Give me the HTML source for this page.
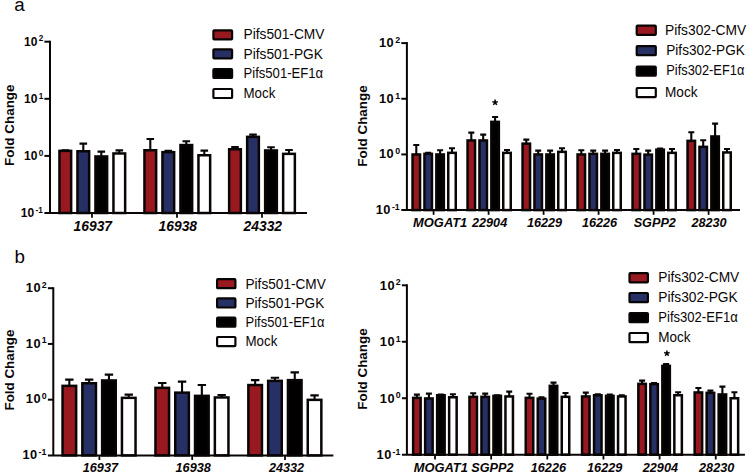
<!DOCTYPE html>
<html><head><meta charset="utf-8"><title>Fold change charts</title>
<style>html,body{margin:0;padding:0;background:#fff;}svg{display:block;}svg text{font-family:"Liberation Sans",sans-serif;}</style></head><body>
<svg width="750" height="476" viewBox="0 0 750 476">
<rect width="750" height="476" fill="#ffffff"/>
<text x="14.2" y="11.2" font-size="18.8" fill="#0a0505">a</text>
<text x="14.4" y="262.8" font-size="18.8" fill="#0a0505">b</text>
<path d="M65.30 150.60V150.20M61.50 150.20H69.10" stroke="#0a0505" stroke-width="2.1" fill="none"/>
<rect x="59.45" y="150.85" width="11.70" height="62.15" fill="#98191f" stroke="#0a0505" stroke-width="2.5"/>
<path d="M83.30 151.00V143.60M79.50 143.60H87.10" stroke="#0a0505" stroke-width="2.1" fill="none"/>
<rect x="77.45" y="151.25" width="11.70" height="61.75" fill="#273064" stroke="#0a0505" stroke-width="2.5"/>
<path d="M101.30 156.20V151.60M97.50 151.60H105.10" stroke="#0a0505" stroke-width="2.1" fill="none"/>
<rect x="95.45" y="156.45" width="11.70" height="56.55" fill="#000000" stroke="#0a0505" stroke-width="2.5"/>
<path d="M119.30 153.20V150.40M115.50 150.40H123.10" stroke="#0a0505" stroke-width="2.1" fill="none"/>
<rect x="113.45" y="153.45" width="11.70" height="59.55" fill="#ffffff" stroke="#0a0505" stroke-width="2.5"/>
<path d="M150.30 150.00V139.00M146.50 139.00H154.10" stroke="#0a0505" stroke-width="2.1" fill="none"/>
<rect x="144.45" y="150.25" width="11.70" height="62.75" fill="#98191f" stroke="#0a0505" stroke-width="2.5"/>
<path d="M168.30 151.90V150.90M164.50 150.90H172.10" stroke="#0a0505" stroke-width="2.1" fill="none"/>
<rect x="162.45" y="152.15" width="11.70" height="60.85" fill="#273064" stroke="#0a0505" stroke-width="2.5"/>
<path d="M186.30 144.80V141.30M182.50 141.30H190.10" stroke="#0a0505" stroke-width="2.1" fill="none"/>
<rect x="180.45" y="145.05" width="11.70" height="67.95" fill="#000000" stroke="#0a0505" stroke-width="2.5"/>
<path d="M204.30 155.00V150.60M200.50 150.60H208.10" stroke="#0a0505" stroke-width="2.1" fill="none"/>
<rect x="198.45" y="155.25" width="11.70" height="57.75" fill="#ffffff" stroke="#0a0505" stroke-width="2.5"/>
<path d="M235.00 149.00V147.00M231.20 147.00H238.80" stroke="#0a0505" stroke-width="2.1" fill="none"/>
<rect x="229.15" y="149.25" width="11.70" height="63.75" fill="#98191f" stroke="#0a0505" stroke-width="2.5"/>
<path d="M253.00 136.60V134.60M249.20 134.60H256.80" stroke="#0a0505" stroke-width="2.1" fill="none"/>
<rect x="247.15" y="136.85" width="11.70" height="76.15" fill="#273064" stroke="#0a0505" stroke-width="2.5"/>
<path d="M271.00 150.20V147.20M267.20 147.20H274.80" stroke="#0a0505" stroke-width="2.1" fill="none"/>
<rect x="265.15" y="150.45" width="11.70" height="62.55" fill="#000000" stroke="#0a0505" stroke-width="2.5"/>
<path d="M289.00 153.60V150.00M285.20 150.00H292.80" stroke="#0a0505" stroke-width="2.1" fill="none"/>
<rect x="283.15" y="153.85" width="11.70" height="59.15" fill="#ffffff" stroke="#0a0505" stroke-width="2.5"/>
<path d="M50.00 40.70V214.00M44.40 213.00H307.00" stroke="#0a0505" stroke-width="2" fill="none"/>
<path d="M44.40 41.70H50.00" stroke="#0a0505" stroke-width="2"/>
<text x="38.80" y="41.40" font-size="8.2" font-weight="bold" fill="#0a0505">2</text>
<text x="24.10" y="45.60" font-size="12.0" font-weight="bold" letter-spacing="0" fill="#0a0505">10</text>
<path d="M44.40 98.80H50.00" stroke="#0a0505" stroke-width="2"/>
<text x="38.80" y="98.50" font-size="8.2" font-weight="bold" fill="#0a0505">1</text>
<text x="24.10" y="102.70" font-size="12.0" font-weight="bold" letter-spacing="0" fill="#0a0505">10</text>
<path d="M44.40 155.90H50.00" stroke="#0a0505" stroke-width="2"/>
<text x="38.80" y="155.60" font-size="8.2" font-weight="bold" fill="#0a0505">0</text>
<text x="24.10" y="159.80" font-size="12.0" font-weight="bold" letter-spacing="0" fill="#0a0505">10</text>
<text x="35.50" y="212.70" font-size="8.2" font-weight="bold" fill="#0a0505">-1</text>
<text x="20.80" y="216.90" font-size="12.0" font-weight="bold" letter-spacing="0" fill="#0a0505">10</text>
<path d="M92.00 213.00V217.80" stroke="#0a0505" stroke-width="1.8"/>
<text x="92.80" y="230.60" text-anchor="middle" font-size="14.2" font-weight="bold" font-style="italic" fill="#0a0505" textLength="38.49" lengthAdjust="spacingAndGlyphs">16937</text>
<path d="M177.00 213.00V217.80" stroke="#0a0505" stroke-width="1.8"/>
<text x="177.80" y="230.60" text-anchor="middle" font-size="14.2" font-weight="bold" font-style="italic" fill="#0a0505" textLength="38.49" lengthAdjust="spacingAndGlyphs">16938</text>
<path d="M262.00 213.00V217.80" stroke="#0a0505" stroke-width="1.8"/>
<text x="262.80" y="230.60" text-anchor="middle" font-size="14.2" font-weight="bold" font-style="italic" fill="#0a0505" textLength="38.49" lengthAdjust="spacingAndGlyphs">24332</text>
<text transform="translate(14.40 125.20) rotate(-90)" text-anchor="middle" font-size="13.4" font-weight="bold" fill="#0a0505" textLength="81.5" lengthAdjust="spacing">Fold Change</text>
<rect x="213.40" y="30.30" width="18.70" height="9.00" rx="0.8" fill="#98191f" stroke="#0a0505" stroke-width="2.2"/>
<text x="243.50" y="39.30" font-size="13.9" fill="#0a0505" textLength="81" lengthAdjust="spacingAndGlyphs">Pifs501-CMV</text>
<rect x="213.40" y="49.30" width="18.70" height="9.00" rx="0.8" fill="#273064" stroke="#0a0505" stroke-width="2.2"/>
<text x="243.50" y="58.60" font-size="13.9" fill="#0a0505" textLength="79.4" lengthAdjust="spacingAndGlyphs">Pifs501-PGK</text>
<rect x="213.40" y="69.00" width="18.70" height="9.00" rx="0.8" fill="#000000" stroke="#0a0505" stroke-width="2.2"/>
<text x="243.50" y="78.30" font-size="13.9" fill="#0a0505" textLength="79.6" lengthAdjust="spacingAndGlyphs">Pifs501-EF1α</text>
<rect x="213.40" y="89.00" width="18.70" height="9.00" rx="0.8" fill="#ffffff" stroke="#0a0505" stroke-width="2.2"/>
<text x="243.50" y="98.30" font-size="13.9" fill="#0a0505" textLength="31.8" lengthAdjust="spacingAndGlyphs">Mock</text>
<path d="M416.30 154.20V145.00M413.30 145.00H419.30" stroke="#0a0505" stroke-width="2.1" fill="none"/>
<rect x="412.55" y="154.45" width="7.50" height="55.65" fill="#98191f" stroke="#0a0505" stroke-width="2.5"/>
<path d="M428.20 153.60V152.80M425.20 152.80H431.20" stroke="#0a0505" stroke-width="2.1" fill="none"/>
<rect x="424.45" y="153.85" width="7.50" height="56.25" fill="#273064" stroke="#0a0505" stroke-width="2.5"/>
<path d="M440.10 154.20V150.20M437.10 150.20H443.10" stroke="#0a0505" stroke-width="2.1" fill="none"/>
<rect x="436.35" y="154.45" width="7.50" height="55.65" fill="#000000" stroke="#0a0505" stroke-width="2.5"/>
<path d="M452.00 152.60V148.20M449.00 148.20H455.00" stroke="#0a0505" stroke-width="2.1" fill="none"/>
<rect x="448.25" y="152.85" width="7.50" height="57.25" fill="#ffffff" stroke="#0a0505" stroke-width="2.5"/>
<path d="M471.30 140.20V132.60M468.30 132.60H474.30" stroke="#0a0505" stroke-width="2.1" fill="none"/>
<rect x="467.55" y="140.45" width="7.50" height="69.65" fill="#98191f" stroke="#0a0505" stroke-width="2.5"/>
<path d="M483.20 140.20V134.60M480.20 134.60H486.20" stroke="#0a0505" stroke-width="2.1" fill="none"/>
<rect x="479.45" y="140.45" width="7.50" height="69.65" fill="#273064" stroke="#0a0505" stroke-width="2.5"/>
<path d="M495.10 121.60V117.00M492.10 117.00H498.10" stroke="#0a0505" stroke-width="2.1" fill="none"/>
<rect x="491.35" y="121.85" width="7.50" height="88.25" fill="#000000" stroke="#0a0505" stroke-width="2.5"/>
<path d="M507.00 152.60V150.00M504.00 150.00H510.00" stroke="#0a0505" stroke-width="2.1" fill="none"/>
<rect x="503.25" y="152.85" width="7.50" height="57.25" fill="#ffffff" stroke="#0a0505" stroke-width="2.5"/>
<path d="M526.30 143.40V139.60M523.30 139.60H529.30" stroke="#0a0505" stroke-width="2.1" fill="none"/>
<rect x="522.55" y="143.65" width="7.50" height="66.45" fill="#98191f" stroke="#0a0505" stroke-width="2.5"/>
<path d="M538.20 154.20V150.60M535.20 150.60H541.20" stroke="#0a0505" stroke-width="2.1" fill="none"/>
<rect x="534.45" y="154.45" width="7.50" height="55.65" fill="#273064" stroke="#0a0505" stroke-width="2.5"/>
<path d="M550.10 154.20V150.60M547.10 150.60H553.10" stroke="#0a0505" stroke-width="2.1" fill="none"/>
<rect x="546.35" y="154.45" width="7.50" height="55.65" fill="#000000" stroke="#0a0505" stroke-width="2.5"/>
<path d="M562.00 151.60V148.20M559.00 148.20H565.00" stroke="#0a0505" stroke-width="2.1" fill="none"/>
<rect x="558.25" y="151.85" width="7.50" height="58.25" fill="#ffffff" stroke="#0a0505" stroke-width="2.5"/>
<path d="M581.30 154.20V150.20M578.30 150.20H584.30" stroke="#0a0505" stroke-width="2.1" fill="none"/>
<rect x="577.55" y="154.45" width="7.50" height="55.65" fill="#98191f" stroke="#0a0505" stroke-width="2.5"/>
<path d="M593.20 153.60V150.60M590.20 150.60H596.20" stroke="#0a0505" stroke-width="2.1" fill="none"/>
<rect x="589.45" y="153.85" width="7.50" height="56.25" fill="#273064" stroke="#0a0505" stroke-width="2.5"/>
<path d="M605.10 153.60V150.60M602.10 150.60H608.10" stroke="#0a0505" stroke-width="2.1" fill="none"/>
<rect x="601.35" y="153.85" width="7.50" height="56.25" fill="#000000" stroke="#0a0505" stroke-width="2.5"/>
<path d="M617.00 152.60V150.00M614.00 150.00H620.00" stroke="#0a0505" stroke-width="2.1" fill="none"/>
<rect x="613.25" y="152.85" width="7.50" height="57.25" fill="#ffffff" stroke="#0a0505" stroke-width="2.5"/>
<path d="M636.30 153.60V149.00M633.30 149.00H639.30" stroke="#0a0505" stroke-width="2.1" fill="none"/>
<rect x="632.55" y="153.85" width="7.50" height="56.25" fill="#98191f" stroke="#0a0505" stroke-width="2.5"/>
<path d="M648.20 154.40V150.60M645.20 150.60H651.20" stroke="#0a0505" stroke-width="2.1" fill="none"/>
<rect x="644.45" y="154.65" width="7.50" height="55.45" fill="#273064" stroke="#0a0505" stroke-width="2.5"/>
<path d="M660.10 149.40V148.60M657.10 148.60H663.10" stroke="#0a0505" stroke-width="2.1" fill="none"/>
<rect x="656.35" y="149.65" width="7.50" height="60.45" fill="#000000" stroke="#0a0505" stroke-width="2.5"/>
<path d="M672.00 152.60V149.00M669.00 149.00H675.00" stroke="#0a0505" stroke-width="2.1" fill="none"/>
<rect x="668.25" y="152.85" width="7.50" height="57.25" fill="#ffffff" stroke="#0a0505" stroke-width="2.5"/>
<path d="M691.30 140.60V132.20M688.30 132.20H694.30" stroke="#0a0505" stroke-width="2.1" fill="none"/>
<rect x="687.55" y="140.85" width="7.50" height="69.25" fill="#98191f" stroke="#0a0505" stroke-width="2.5"/>
<path d="M703.20 146.60V140.20M700.20 140.20H706.20" stroke="#0a0505" stroke-width="2.1" fill="none"/>
<rect x="699.45" y="146.85" width="7.50" height="63.25" fill="#273064" stroke="#0a0505" stroke-width="2.5"/>
<path d="M715.10 136.20V123.60M712.10 123.60H718.10" stroke="#0a0505" stroke-width="2.1" fill="none"/>
<rect x="711.35" y="136.45" width="7.50" height="73.65" fill="#000000" stroke="#0a0505" stroke-width="2.5"/>
<path d="M727.00 152.20V149.00M724.00 149.00H730.00" stroke="#0a0505" stroke-width="2.1" fill="none"/>
<rect x="723.25" y="152.45" width="7.50" height="57.65" fill="#ffffff" stroke="#0a0505" stroke-width="2.5"/>
<path d="M406.90 42.10V211.10M401.30 210.10H740.00" stroke="#0a0505" stroke-width="2" fill="none"/>
<path d="M401.30 43.10H406.90" stroke="#0a0505" stroke-width="2"/>
<text x="395.20" y="42.90" font-size="8.8" font-weight="bold" fill="#0a0505">2</text>
<text x="379.10" y="47.00" font-size="12.8" font-weight="bold" letter-spacing="0.4" fill="#0a0505">10</text>
<path d="M401.30 98.77H406.90" stroke="#0a0505" stroke-width="2"/>
<text x="395.20" y="98.57" font-size="8.8" font-weight="bold" fill="#0a0505">1</text>
<text x="379.10" y="102.67" font-size="12.8" font-weight="bold" letter-spacing="0.4" fill="#0a0505">10</text>
<path d="M401.30 154.43H406.90" stroke="#0a0505" stroke-width="2"/>
<text x="395.20" y="154.23" font-size="8.8" font-weight="bold" fill="#0a0505">0</text>
<text x="379.10" y="158.33" font-size="12.8" font-weight="bold" letter-spacing="0.4" fill="#0a0505">10</text>
<text x="391.90" y="209.90" font-size="8.8" font-weight="bold" fill="#0a0505">-1</text>
<text x="375.80" y="214.00" font-size="12.8" font-weight="bold" letter-spacing="0.4" fill="#0a0505">10</text>
<path d="M433.60 210.10V214.80" stroke="#0a0505" stroke-width="1.8"/>
<text x="440.20" y="226.60" text-anchor="middle" font-size="13.0" font-weight="bold" font-style="italic" fill="#0a0505" textLength="54.22" lengthAdjust="spacingAndGlyphs">MOGAT1</text>
<path d="M488.60 210.10V214.80" stroke="#0a0505" stroke-width="1.8"/>
<text x="489.60" y="226.60" text-anchor="middle" font-size="13.0" font-weight="bold" font-style="italic" fill="#0a0505" textLength="35.24" lengthAdjust="spacingAndGlyphs">22904</text>
<path d="M543.60 210.10V214.80" stroke="#0a0505" stroke-width="1.8"/>
<text x="544.50" y="226.60" text-anchor="middle" font-size="13.0" font-weight="bold" font-style="italic" fill="#0a0505" textLength="35.24" lengthAdjust="spacingAndGlyphs">16229</text>
<path d="M598.60 210.10V214.80" stroke="#0a0505" stroke-width="1.8"/>
<text x="599.50" y="226.60" text-anchor="middle" font-size="13.0" font-weight="bold" font-style="italic" fill="#0a0505" textLength="35.24" lengthAdjust="spacingAndGlyphs">16226</text>
<path d="M653.60 210.10V214.80" stroke="#0a0505" stroke-width="1.8"/>
<text x="654.80" y="226.60" text-anchor="middle" font-size="13.0" font-weight="bold" font-style="italic" fill="#0a0505" textLength="42.27" lengthAdjust="spacingAndGlyphs">SGPP2</text>
<path d="M708.60 210.10V214.80" stroke="#0a0505" stroke-width="1.8"/>
<text x="709.00" y="226.60" text-anchor="middle" font-size="13.0" font-weight="bold" font-style="italic" fill="#0a0505" textLength="35.24" lengthAdjust="spacingAndGlyphs">28230</text>
<text transform="translate(366.50 126.00) rotate(-90)" text-anchor="middle" font-size="13.4" font-weight="bold" fill="#0a0505" textLength="81.5" lengthAdjust="spacing">Fold Change</text>
<rect x="636.70" y="25.70" width="19.10" height="9.10" rx="0.8" fill="#98191f" stroke="#0a0505" stroke-width="2.2"/>
<text x="665.00" y="34.60" font-size="13.9" fill="#0a0505" textLength="81.2" lengthAdjust="spacingAndGlyphs">Pifs302-CMV</text>
<rect x="636.70" y="46.10" width="19.10" height="9.10" rx="0.8" fill="#273064" stroke="#0a0505" stroke-width="2.2"/>
<text x="666.30" y="55.00" font-size="13.9" fill="#0a0505" textLength="78.5" lengthAdjust="spacingAndGlyphs">Pifs302-PGK</text>
<rect x="636.70" y="66.60" width="19.10" height="9.10" rx="0.8" fill="#000000" stroke="#0a0505" stroke-width="2.2"/>
<text x="666.30" y="75.30" font-size="13.9" fill="#0a0505" textLength="78.0" lengthAdjust="spacingAndGlyphs">Pifs302-EF1α</text>
<rect x="636.70" y="88.00" width="19.10" height="9.10" rx="0.8" fill="#ffffff" stroke="#0a0505" stroke-width="2.2"/>
<text x="665.00" y="96.90" font-size="13.9" fill="#0a0505" textLength="32.5" lengthAdjust="spacingAndGlyphs">Mock</text>
<path d="M495.10 102.50L495.10 99.60M495.10 102.50L497.86 101.60M495.10 102.50L496.80 104.85M495.10 102.50L493.40 104.85M495.10 102.50L492.34 101.60" stroke="#0a0505" stroke-width="1.5" fill="none"/>
<path d="M69.35 385.60V379.60M65.15 379.60H73.55" stroke="#0a0505" stroke-width="2.1" fill="none"/>
<rect x="62.55" y="385.85" width="13.60" height="69.55" fill="#98191f" stroke="#0a0505" stroke-width="2.5"/>
<path d="M89.15 383.00V379.60M84.95 379.60H93.35" stroke="#0a0505" stroke-width="2.1" fill="none"/>
<rect x="82.35" y="383.25" width="13.60" height="72.15" fill="#273064" stroke="#0a0505" stroke-width="2.5"/>
<path d="M108.95 380.20V374.60M104.75 374.60H113.15" stroke="#0a0505" stroke-width="2.1" fill="none"/>
<rect x="102.15" y="380.45" width="13.60" height="74.95" fill="#000000" stroke="#0a0505" stroke-width="2.5"/>
<path d="M128.75 397.60V394.60M124.55 394.60H132.95" stroke="#0a0505" stroke-width="2.1" fill="none"/>
<rect x="121.95" y="397.85" width="13.60" height="57.55" fill="#ffffff" stroke="#0a0505" stroke-width="2.5"/>
<path d="M162.25 387.60V383.00M158.05 383.00H166.45" stroke="#0a0505" stroke-width="2.1" fill="none"/>
<rect x="155.45" y="387.85" width="13.60" height="67.55" fill="#98191f" stroke="#0a0505" stroke-width="2.5"/>
<path d="M182.05 392.40V381.60M177.85 381.60H186.25" stroke="#0a0505" stroke-width="2.1" fill="none"/>
<rect x="175.25" y="392.65" width="13.60" height="62.75" fill="#273064" stroke="#0a0505" stroke-width="2.5"/>
<path d="M201.85 395.60V385.00M197.65 385.00H206.05" stroke="#0a0505" stroke-width="2.1" fill="none"/>
<rect x="195.05" y="395.85" width="13.60" height="59.55" fill="#000000" stroke="#0a0505" stroke-width="2.5"/>
<path d="M221.65 397.20V395.00M217.45 395.00H225.85" stroke="#0a0505" stroke-width="2.1" fill="none"/>
<rect x="214.85" y="397.45" width="13.60" height="57.95" fill="#ffffff" stroke="#0a0505" stroke-width="2.5"/>
<path d="M255.15 384.80V380.10M250.95 380.10H259.35" stroke="#0a0505" stroke-width="2.1" fill="none"/>
<rect x="248.35" y="385.05" width="13.60" height="70.35" fill="#98191f" stroke="#0a0505" stroke-width="2.5"/>
<path d="M274.95 380.60V377.80M270.75 377.80H279.15" stroke="#0a0505" stroke-width="2.1" fill="none"/>
<rect x="268.15" y="380.85" width="13.60" height="74.55" fill="#273064" stroke="#0a0505" stroke-width="2.5"/>
<path d="M294.75 379.90V372.40M290.55 372.40H298.95" stroke="#0a0505" stroke-width="2.1" fill="none"/>
<rect x="287.95" y="380.15" width="13.60" height="75.25" fill="#000000" stroke="#0a0505" stroke-width="2.5"/>
<path d="M314.55 399.60V395.40M310.35 395.40H318.75" stroke="#0a0505" stroke-width="2.1" fill="none"/>
<rect x="307.75" y="399.85" width="13.60" height="55.55" fill="#ffffff" stroke="#0a0505" stroke-width="2.5"/>
<path d="M53.30 287.20V456.40M47.90 455.40H333.40" stroke="#0a0505" stroke-width="2" fill="none"/>
<path d="M47.90 288.20H53.30" stroke="#0a0505" stroke-width="2"/>
<text x="41.80" y="287.60" font-size="8.8" font-weight="bold" fill="#0a0505">2</text>
<text x="25.70" y="292.00" font-size="12.8" font-weight="bold" letter-spacing="0.6" fill="#0a0505">10</text>
<path d="M47.90 343.93H53.30" stroke="#0a0505" stroke-width="2"/>
<text x="41.80" y="343.33" font-size="8.8" font-weight="bold" fill="#0a0505">1</text>
<text x="25.70" y="347.73" font-size="12.8" font-weight="bold" letter-spacing="0.6" fill="#0a0505">10</text>
<path d="M47.90 399.67H53.30" stroke="#0a0505" stroke-width="2"/>
<text x="41.80" y="399.07" font-size="8.8" font-weight="bold" fill="#0a0505">0</text>
<text x="25.70" y="403.47" font-size="12.8" font-weight="bold" letter-spacing="0.6" fill="#0a0505">10</text>
<text x="38.50" y="454.80" font-size="8.8" font-weight="bold" fill="#0a0505">-1</text>
<text x="22.40" y="459.20" font-size="12.8" font-weight="bold" letter-spacing="0.6" fill="#0a0505">10</text>
<path d="M99.40 455.40V460.00" stroke="#0a0505" stroke-width="1.8"/>
<text x="100.40" y="471.70" text-anchor="middle" font-size="13.0" font-weight="bold" font-style="italic" fill="#0a0505" textLength="35.24" lengthAdjust="spacingAndGlyphs">16937</text>
<path d="M192.20 455.40V460.00" stroke="#0a0505" stroke-width="1.8"/>
<text x="193.20" y="471.70" text-anchor="middle" font-size="13.0" font-weight="bold" font-style="italic" fill="#0a0505" textLength="35.24" lengthAdjust="spacingAndGlyphs">16938</text>
<path d="M285.00 455.40V460.00" stroke="#0a0505" stroke-width="1.8"/>
<text x="286.50" y="471.70" text-anchor="middle" font-size="13.0" font-weight="bold" font-style="italic" fill="#0a0505" textLength="35.24" lengthAdjust="spacingAndGlyphs">24332</text>
<text transform="translate(14.30 370.00) rotate(-90)" text-anchor="middle" font-size="13.4" font-weight="bold" fill="#0a0505" textLength="81" lengthAdjust="spacing">Fold Change</text>
<rect x="217.10" y="279.10" width="18.30" height="9.10" rx="0.8" fill="#98191f" stroke="#0a0505" stroke-width="2.2"/>
<text x="245.50" y="288.60" font-size="13.9" fill="#0a0505" textLength="80.3" lengthAdjust="spacingAndGlyphs">Pifs501-CMV</text>
<rect x="217.10" y="298.40" width="18.30" height="9.10" rx="0.8" fill="#273064" stroke="#0a0505" stroke-width="2.2"/>
<text x="245.50" y="307.50" font-size="13.9" fill="#0a0505" textLength="78.8" lengthAdjust="spacingAndGlyphs">Pifs501-PGK</text>
<rect x="217.10" y="317.60" width="18.30" height="9.10" rx="0.8" fill="#000000" stroke="#0a0505" stroke-width="2.2"/>
<text x="245.50" y="326.50" font-size="13.9" fill="#0a0505" textLength="79" lengthAdjust="spacingAndGlyphs">Pifs501-EF1α</text>
<rect x="217.10" y="337.00" width="18.30" height="9.10" rx="0.8" fill="#ffffff" stroke="#0a0505" stroke-width="2.2"/>
<text x="245.50" y="345.90" font-size="13.9" fill="#0a0505" textLength="31.8" lengthAdjust="spacingAndGlyphs">Mock</text>
<path d="M416.90 397.60V394.60M413.90 394.60H419.90" stroke="#0a0505" stroke-width="2.1" fill="none"/>
<rect x="413.15" y="397.85" width="7.50" height="56.85" fill="#98191f" stroke="#0a0505" stroke-width="2.5"/>
<path d="M428.90 398.20V393.60M425.90 393.60H431.90" stroke="#0a0505" stroke-width="2.1" fill="none"/>
<rect x="425.15" y="398.45" width="7.50" height="56.25" fill="#273064" stroke="#0a0505" stroke-width="2.5"/>
<path d="M440.90 395.00V394.60M437.90 394.60H443.90" stroke="#0a0505" stroke-width="2.1" fill="none"/>
<rect x="437.15" y="395.25" width="7.50" height="59.45" fill="#000000" stroke="#0a0505" stroke-width="2.5"/>
<path d="M452.90 397.00V394.20M449.90 394.20H455.90" stroke="#0a0505" stroke-width="2.1" fill="none"/>
<rect x="449.15" y="397.25" width="7.50" height="57.45" fill="#ffffff" stroke="#0a0505" stroke-width="2.5"/>
<path d="M473.20 396.60V393.20M470.20 393.20H476.20" stroke="#0a0505" stroke-width="2.1" fill="none"/>
<rect x="469.45" y="396.85" width="7.50" height="57.85" fill="#98191f" stroke="#0a0505" stroke-width="2.5"/>
<path d="M485.20 396.60V393.60M482.20 393.60H488.20" stroke="#0a0505" stroke-width="2.1" fill="none"/>
<rect x="481.45" y="396.85" width="7.50" height="57.85" fill="#273064" stroke="#0a0505" stroke-width="2.5"/>
<path d="M497.20 395.60V395.20M494.20 395.20H500.20" stroke="#0a0505" stroke-width="2.1" fill="none"/>
<rect x="493.45" y="395.85" width="7.50" height="58.85" fill="#000000" stroke="#0a0505" stroke-width="2.5"/>
<path d="M509.20 396.20V391.60M506.20 391.60H512.20" stroke="#0a0505" stroke-width="2.1" fill="none"/>
<rect x="505.45" y="396.45" width="7.50" height="58.25" fill="#ffffff" stroke="#0a0505" stroke-width="2.5"/>
<path d="M529.50 397.60V393.80M526.50 393.80H532.50" stroke="#0a0505" stroke-width="2.1" fill="none"/>
<rect x="525.75" y="397.85" width="7.50" height="56.85" fill="#98191f" stroke="#0a0505" stroke-width="2.5"/>
<path d="M541.50 398.40V397.40M538.50 397.40H544.50" stroke="#0a0505" stroke-width="2.1" fill="none"/>
<rect x="537.75" y="398.65" width="7.50" height="56.05" fill="#273064" stroke="#0a0505" stroke-width="2.5"/>
<path d="M553.50 385.60V382.60M550.50 382.60H556.50" stroke="#0a0505" stroke-width="2.1" fill="none"/>
<rect x="549.75" y="385.85" width="7.50" height="68.85" fill="#000000" stroke="#0a0505" stroke-width="2.5"/>
<path d="M565.50 396.60V393.00M562.50 393.00H568.50" stroke="#0a0505" stroke-width="2.1" fill="none"/>
<rect x="561.75" y="396.85" width="7.50" height="57.85" fill="#ffffff" stroke="#0a0505" stroke-width="2.5"/>
<path d="M585.80 396.20V392.60M582.80 392.60H588.80" stroke="#0a0505" stroke-width="2.1" fill="none"/>
<rect x="582.05" y="396.45" width="7.50" height="58.25" fill="#98191f" stroke="#0a0505" stroke-width="2.5"/>
<path d="M597.80 395.00V394.20M594.80 394.20H600.80" stroke="#0a0505" stroke-width="2.1" fill="none"/>
<rect x="594.05" y="395.25" width="7.50" height="59.45" fill="#273064" stroke="#0a0505" stroke-width="2.5"/>
<path d="M609.80 395.60V394.60M606.80 394.60H612.80" stroke="#0a0505" stroke-width="2.1" fill="none"/>
<rect x="606.05" y="395.85" width="7.50" height="58.85" fill="#000000" stroke="#0a0505" stroke-width="2.5"/>
<path d="M621.80 396.20V395.20M618.80 395.20H624.80" stroke="#0a0505" stroke-width="2.1" fill="none"/>
<rect x="618.05" y="396.45" width="7.50" height="58.25" fill="#ffffff" stroke="#0a0505" stroke-width="2.5"/>
<path d="M642.10 383.60V380.60M639.10 380.60H645.10" stroke="#0a0505" stroke-width="2.1" fill="none"/>
<rect x="638.35" y="383.85" width="7.50" height="70.85" fill="#98191f" stroke="#0a0505" stroke-width="2.5"/>
<path d="M654.10 383.90V383.10M651.10 383.10H657.10" stroke="#0a0505" stroke-width="2.1" fill="none"/>
<rect x="650.35" y="384.15" width="7.50" height="70.55" fill="#273064" stroke="#0a0505" stroke-width="2.5"/>
<path d="M666.10 365.60V364.00M663.10 364.00H669.10" stroke="#0a0505" stroke-width="2.1" fill="none"/>
<rect x="662.35" y="365.85" width="7.50" height="88.85" fill="#000000" stroke="#0a0505" stroke-width="2.5"/>
<path d="M678.10 395.00V392.20M675.10 392.20H681.10" stroke="#0a0505" stroke-width="2.1" fill="none"/>
<rect x="674.35" y="395.25" width="7.50" height="59.45" fill="#ffffff" stroke="#0a0505" stroke-width="2.5"/>
<path d="M698.40 392.20V388.00M695.40 388.00H701.40" stroke="#0a0505" stroke-width="2.1" fill="none"/>
<rect x="694.65" y="392.45" width="7.50" height="62.25" fill="#98191f" stroke="#0a0505" stroke-width="2.5"/>
<path d="M710.40 392.60V390.60M707.40 390.60H713.40" stroke="#0a0505" stroke-width="2.1" fill="none"/>
<rect x="706.65" y="392.85" width="7.50" height="61.85" fill="#273064" stroke="#0a0505" stroke-width="2.5"/>
<path d="M722.40 394.20V386.60M719.40 386.60H725.40" stroke="#0a0505" stroke-width="2.1" fill="none"/>
<rect x="718.65" y="394.45" width="7.50" height="60.25" fill="#000000" stroke="#0a0505" stroke-width="2.5"/>
<path d="M734.40 398.00V392.20M731.40 392.20H737.40" stroke="#0a0505" stroke-width="2.1" fill="none"/>
<rect x="730.65" y="398.25" width="7.50" height="56.45" fill="#ffffff" stroke="#0a0505" stroke-width="2.5"/>
<path d="M406.90 284.30V455.70M401.90 454.70H744.90" stroke="#0a0505" stroke-width="2" fill="none"/>
<path d="M401.90 285.30H406.90" stroke="#0a0505" stroke-width="2"/>
<text x="395.80" y="285.10" font-size="8.8" font-weight="bold" fill="#0a0505">2</text>
<text x="379.70" y="289.70" font-size="12.8" font-weight="bold" letter-spacing="0.8" fill="#0a0505">10</text>
<path d="M401.90 341.77H406.90" stroke="#0a0505" stroke-width="2"/>
<text x="395.80" y="341.57" font-size="8.8" font-weight="bold" fill="#0a0505">1</text>
<text x="379.70" y="346.17" font-size="12.8" font-weight="bold" letter-spacing="0.8" fill="#0a0505">10</text>
<path d="M401.90 398.23H406.90" stroke="#0a0505" stroke-width="2"/>
<text x="395.80" y="398.03" font-size="8.8" font-weight="bold" fill="#0a0505">0</text>
<text x="379.70" y="402.63" font-size="12.8" font-weight="bold" letter-spacing="0.8" fill="#0a0505">10</text>
<text x="392.50" y="454.50" font-size="8.8" font-weight="bold" fill="#0a0505">-1</text>
<text x="376.40" y="459.10" font-size="12.8" font-weight="bold" letter-spacing="0.8" fill="#0a0505">10</text>
<path d="M435.00 454.70V459.50" stroke="#0a0505" stroke-width="1.8"/>
<text x="440.80" y="471.70" text-anchor="middle" font-size="13.0" font-weight="bold" font-style="italic" fill="#0a0505" textLength="54.22" lengthAdjust="spacingAndGlyphs">MOGAT1</text>
<path d="M491.15 454.70V459.50" stroke="#0a0505" stroke-width="1.8"/>
<text x="492.40" y="471.70" text-anchor="middle" font-size="13.0" font-weight="bold" font-style="italic" fill="#0a0505" textLength="42.27" lengthAdjust="spacingAndGlyphs">SGPP2</text>
<path d="M547.30 454.70V459.50" stroke="#0a0505" stroke-width="1.8"/>
<text x="548.40" y="471.70" text-anchor="middle" font-size="13.0" font-weight="bold" font-style="italic" fill="#0a0505" textLength="35.24" lengthAdjust="spacingAndGlyphs">16226</text>
<path d="M603.45 454.70V459.50" stroke="#0a0505" stroke-width="1.8"/>
<text x="604.70" y="471.70" text-anchor="middle" font-size="13.0" font-weight="bold" font-style="italic" fill="#0a0505" textLength="35.24" lengthAdjust="spacingAndGlyphs">16229</text>
<path d="M659.60 454.70V459.50" stroke="#0a0505" stroke-width="1.8"/>
<text x="660.40" y="471.70" text-anchor="middle" font-size="13.0" font-weight="bold" font-style="italic" fill="#0a0505" textLength="35.24" lengthAdjust="spacingAndGlyphs">22904</text>
<path d="M715.75 454.70V459.50" stroke="#0a0505" stroke-width="1.8"/>
<text x="716.70" y="471.70" text-anchor="middle" font-size="13.0" font-weight="bold" font-style="italic" fill="#0a0505" textLength="35.24" lengthAdjust="spacingAndGlyphs">28230</text>
<text transform="translate(367.00 369.00) rotate(-90)" text-anchor="middle" font-size="13.4" font-weight="bold" fill="#0a0505" textLength="81.5" lengthAdjust="spacing">Fold Change</text>
<rect x="629.50" y="273.10" width="18.40" height="9.20" rx="0.8" fill="#98191f" stroke="#0a0505" stroke-width="2.2"/>
<text x="658.30" y="282.40" font-size="13.9" fill="#0a0505" textLength="81" lengthAdjust="spacingAndGlyphs">Pifs302-CMV</text>
<rect x="629.50" y="293.00" width="18.40" height="9.20" rx="0.8" fill="#273064" stroke="#0a0505" stroke-width="2.2"/>
<text x="658.30" y="301.90" font-size="13.9" fill="#0a0505" textLength="79.4" lengthAdjust="spacingAndGlyphs">Pifs302-PGK</text>
<rect x="629.50" y="313.00" width="18.40" height="9.20" rx="0.8" fill="#000000" stroke="#0a0505" stroke-width="2.2"/>
<text x="658.30" y="321.50" font-size="13.9" fill="#0a0505" textLength="79.4" lengthAdjust="spacingAndGlyphs">Pifs302-EF1α</text>
<rect x="629.50" y="333.00" width="18.40" height="9.20" rx="0.8" fill="#ffffff" stroke="#0a0505" stroke-width="2.2"/>
<text x="658.30" y="342.30" font-size="13.9" fill="#0a0505" textLength="32.3" lengthAdjust="spacingAndGlyphs">Mock</text>
<path d="M666.90 353.40L666.90 350.50M666.90 353.40L669.66 352.50M666.90 353.40L668.60 355.75M666.90 353.40L665.20 355.75M666.90 353.40L664.14 352.50" stroke="#0a0505" stroke-width="1.5" fill="none"/>
</svg></body></html>
